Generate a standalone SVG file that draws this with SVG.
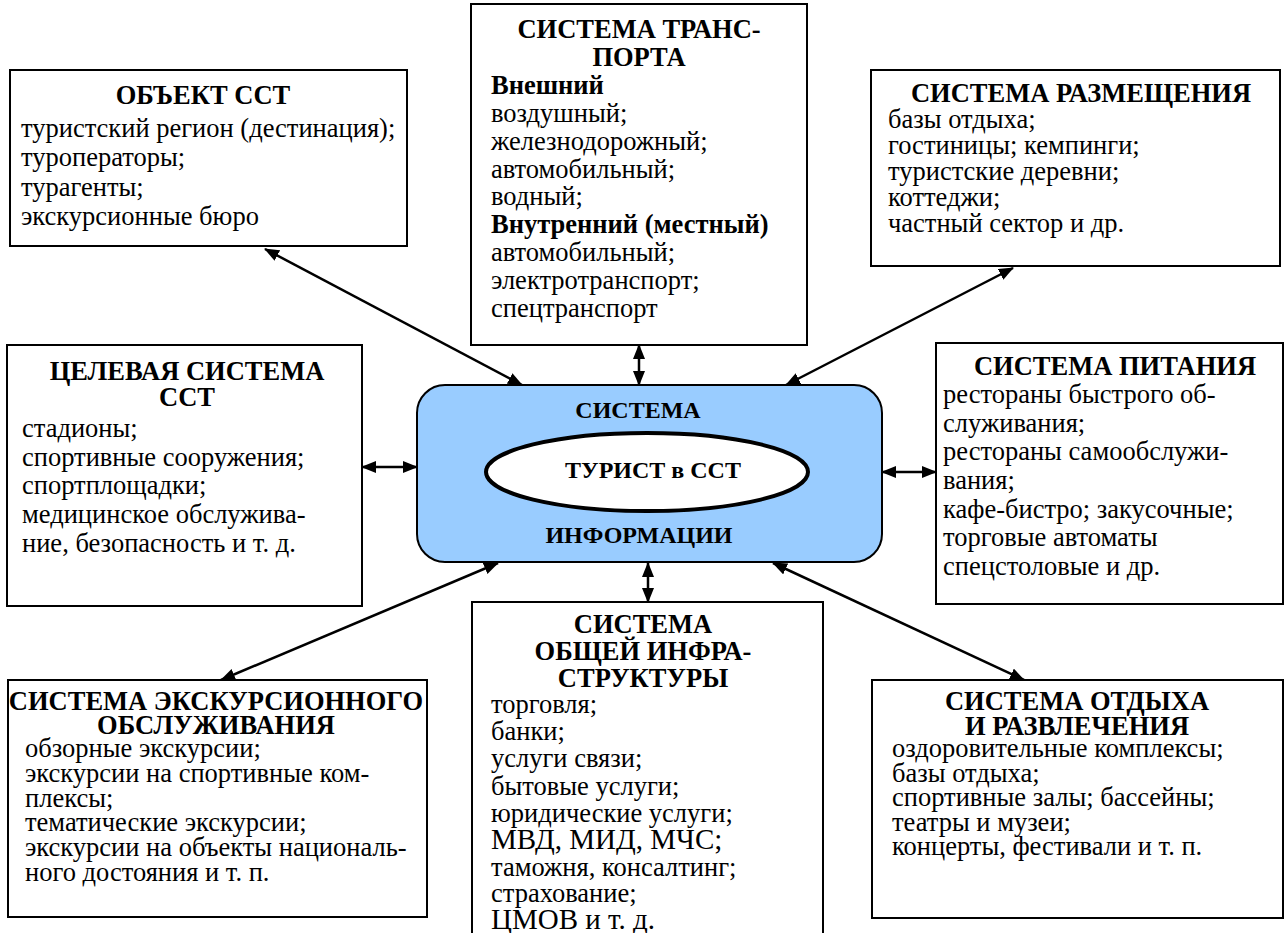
<svg xmlns="http://www.w3.org/2000/svg" width="1287" height="933" viewBox="0 0 1287 933" font-family="Liberation Serif, Times New Roman, DejaVu Serif, serif">
<style>
.box{fill:#fff;stroke:#000;stroke-width:2}
.t{font-size:26.5px;fill:#000}
.h{font-weight:bold;text-anchor:middle}
.b{font-weight:bold}
.big{font-size:29px}
.ci{font-size:24px;font-weight:bold;text-anchor:middle;fill:#000}
.conn line{stroke:#000;stroke-width:2.5;marker-start:url(#ah);marker-end:url(#ah)}
</style>
<defs>
<marker id="ah" viewBox="0 0 15 12" refX="14" refY="6" markerWidth="15" markerHeight="12" markerUnits="userSpaceOnUse" orient="auto-start-reverse">
<path d="M0,0 L15,6 L0,12 z" fill="#000"/>
</marker>
</defs>
<rect width="1287" height="933" fill="#fff"/>

<g id="connectors" class="conn">
<line x1="265" y1="249" x2="522" y2="385"/>
<line x1="639" y1="345" x2="639" y2="385"/>
<line x1="1013" y1="268" x2="786" y2="385"/>
<line x1="362" y1="467" x2="417" y2="467"/>
<line x1="936" y1="472" x2="882" y2="472"/>
<line x1="221" y1="680" x2="498" y2="563"/>
<line x1="648" y1="602" x2="648" y2="563"/>
<line x1="1024" y1="680" x2="773" y2="563"/>
</g>

<g id="center">
<rect x="417" y="385" width="465" height="177" rx="28" ry="28" fill="#99CCFF" stroke="#000" stroke-width="2"/>
<ellipse cx="647" cy="472" rx="161" ry="39" fill="#fff" stroke="#000" stroke-width="4"/>
<text class="ci" x="638" y="418">СИСТЕМА</text>
<text class="ci" x="653" y="478">ТУРИСТ в ССТ</text>
<text class="ci" x="639" y="543">ИНФОРМАЦИИ</text>
</g>

<g id="obj">
<rect class="box" x="10" y="70" width="397" height="176"/>
<text class="t h" x="203" y="104">ОБЪЕКТ ССТ</text>
<text class="t" x="21" y="137">туристский регион (дестинация);</text>
<text class="t" x="21" y="166">туроператоры;</text>
<text class="t" x="21" y="196">турагенты;</text>
<text class="t" x="21" y="225">экскурсионные бюро</text>
</g>

<g id="transport">
<rect class="box" x="471" y="4" width="336" height="341"/>
<text class="t h" x="639" y="38">СИСТЕМА ТРАНС-</text>
<text class="t h" x="639" y="66">ПОРТА</text>
<text class="t b" x="491" y="94">Внешний</text>
<text class="t" x="491" y="122">воздушный;</text>
<text class="t" x="491" y="150">железнодорожный;</text>
<text class="t" x="491" y="178">автомобильный;</text>
<text class="t" x="491" y="205">водный;</text>
<text class="t b" x="491" y="233">Внутренний (местный)</text>
<text class="t" x="491" y="261">автомобильный;</text>
<text class="t" x="491" y="289">электротранспорт;</text>
<text class="t" x="491" y="317">спецтранспорт</text>
</g>

<g id="accommodation">
<rect class="box" x="871" y="70" width="409" height="196"/>
<text class="t h" x="1081" y="102">СИСТЕМА РАЗМЕЩЕНИЯ</text>
<text class="t" x="888" y="128">базы отдыха;</text>
<text class="t" x="888" y="154">гостиницы; кемпинги;</text>
<text class="t" x="888" y="180">туристские деревни;</text>
<text class="t" x="888" y="206">коттеджи;</text>
<text class="t" x="888" y="232">частный сектор и др.</text>
</g>

<g id="target">
<rect class="box" x="7" y="345" width="355" height="261"/>
<text class="t h" x="187" y="380">ЦЕЛЕВАЯ СИСТЕМА</text>
<text class="t h" x="187" y="406">ССТ</text>
<text class="t" x="22" y="437">стадионы;</text>
<text class="t" x="22" y="466">спортивные сооружения;</text>
<text class="t" x="22" y="494">спортплощадки;</text>
<text class="t" x="22" y="523">медицинское обслужива-</text>
<text class="t" x="22" y="552">ние, безопасность и т. д.</text>
</g>

<g id="food">
<rect class="box" x="936" y="343" width="347" height="261"/>
<text class="t h" x="1115" y="375">СИСТЕМА ПИТАНИЯ</text>
<text class="t" x="943" y="403">рестораны быстрого об-</text>
<text class="t" x="943" y="432">служивания;</text>
<text class="t" x="943" y="460">рестораны самообслужи-</text>
<text class="t" x="943" y="489">вания;</text>
<text class="t" x="943" y="518">кафе-бистро; закусочные;</text>
<text class="t" x="943" y="546">торговые автоматы</text>
<text class="t" x="943" y="575">спецстоловые и др.</text>
</g>

<g id="excursion">
<rect class="box" x="8" y="680" width="419" height="237"/>
<text class="t h" x="216" y="710">СИСТЕМА ЭКСКУРСИОННОГО</text>
<text class="t h" x="216" y="734">ОБСЛУЖИВАНИЯ</text>
<text class="t" x="25" y="757">обзорные экскурсии;</text>
<text class="t" x="25" y="782">экскурсии на спортивные ком-</text>
<text class="t" x="25" y="807">плексы;</text>
<text class="t" x="25" y="831">тематические экскурсии;</text>
<text class="t" x="25" y="856">экскурсии на объекты националь-</text>
<text class="t" x="25" y="881">ного достояния и т. п.</text>
</g>

<g id="infrastructure">
<rect class="box" x="472" y="602" width="351" height="345"/>
<text class="t h" x="643" y="633">СИСТЕМА</text>
<text class="t h" x="643" y="660">ОБЩЕЙ ИНФРА-</text>
<text class="t h" x="643" y="687">СТРУКТУРЫ</text>
<text class="t" x="491" y="713">торговля;</text>
<text class="t" x="491" y="740">банки;</text>
<text class="t" x="491" y="767">услуги связи;</text>
<text class="t" x="491" y="795">бытовые услуги;</text>
<text class="t" x="491" y="822">юридические услуги;</text>
<text class="t big" x="491" y="849">МВД, МИД, МЧС;</text>
<text class="t" x="491" y="876">таможня, консалтинг;</text>
<text class="t" x="491" y="902">страхование;</text>
<text class="t big" x="491" y="929">ЦМОВ и т. д.</text>
</g>

<g id="leisure">
<rect class="box" x="872" y="680" width="411" height="238"/>
<text class="t h" x="1077" y="710">СИСТЕМА ОТДЫХА</text>
<text class="t h" x="1077" y="735">И РАЗВЛЕЧЕНИЯ</text>
<text class="t" x="892" y="757">оздоровительные комплексы;</text>
<text class="t" x="892" y="782">базы отдыха;</text>
<text class="t" x="892" y="806">спортивные залы; бассейны;</text>
<text class="t" x="892" y="831">театры и музеи;</text>
<text class="t" x="892" y="855">концерты, фестивали и т. п.</text>
</g>
</svg>
